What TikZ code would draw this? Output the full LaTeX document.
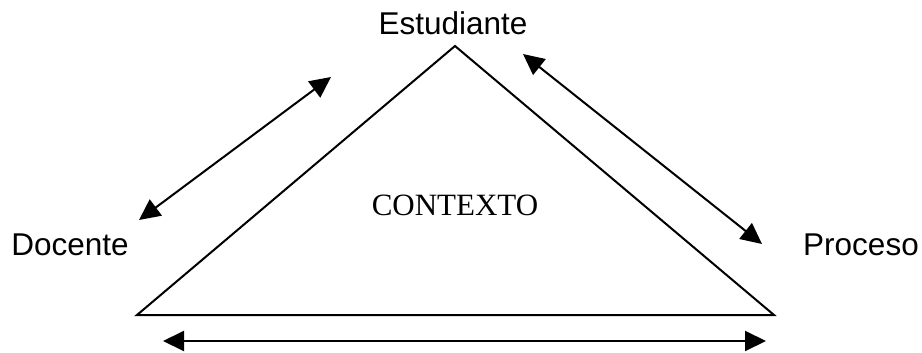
\documentclass[tikz,border=0pt]{standalone}
\usepackage{fontspec}
\setmainfont{Liberation Serif}
\newfontfamily\arialf{Liberation Sans}
\usetikzlibrary{arrows.meta}
\begin{document}
\begin{tikzpicture}[x=1pt,y=-1pt,
  lbl/.style={font=\arialf\fontsize{31.5}{36}\selectfont, inner sep=0pt, anchor=base},
  ctx/.style={font=\fontsize{31}{36}\selectfont, inner sep=0pt, anchor=base},
  tri/.style={line width=2pt, line join=miter},
  dbl/.style={line width=2pt, {Triangle[length=21pt,width=20pt]}-{Triangle[length=21pt,width=20pt]}}]
\useasboundingbox (0,0) rectangle (922,353);
\coordinate (A) at (455,46);
\coordinate (L) at (137,315);
\coordinate (R) at (774,315);
\draw[tri] (A) -- (L) -- (R) -- cycle;
\node[lbl] (est) at (453,35) {Estudiante};
\node[lbl] (doc) at (70,255) {Docente};
\node[lbl] (pro) at (861,255) {Proceso};
\node[ctx] (ctxt) at (455,215) {CONTEXTO};
\coordinate (l1) at (139,220);
\coordinate (l2) at (331,77);
\coordinate (r1) at (523,54);
\coordinate (r2) at (762,244);
\coordinate (b1) at (163,341);
\coordinate (b2) at (766,341);
\draw[dbl] (l1) -- (l2);
\draw[dbl] (r1) -- (r2);
\draw[dbl] (b1) -- (b2);
\end{tikzpicture}
\end{document}
